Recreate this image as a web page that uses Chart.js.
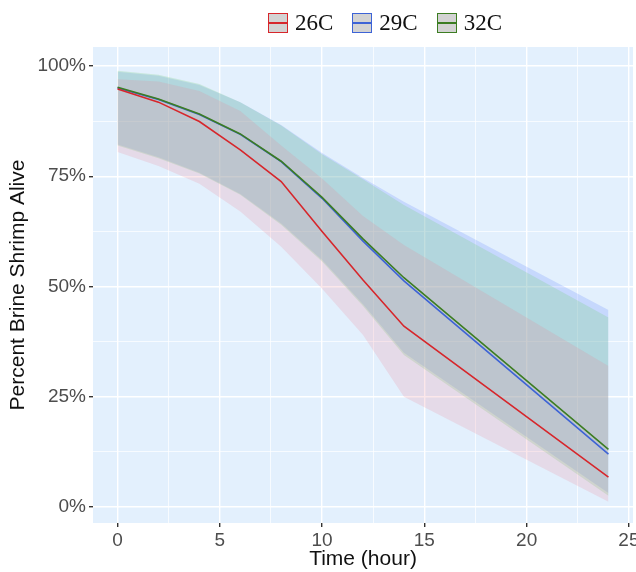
<!DOCTYPE html>
<html>
<head>
<meta charset="utf-8">
<script src="https://cdn.jsdelivr.net/npm/chart.js@4.4.1/dist/chart.umd.min.js"></script>
<style>
  html, body { margin: 0; padding: 0; background: #fff; }
  #wrap { position: relative; width: 636px; height: 572px; }
  #legend {
    position: absolute; top: 10px; left: 268px;
    display: flex; align-items: center;
    font-family: "Liberation Serif", "DejaVu Serif", serif; font-size: 23px; color: #111;
  }
  .item { display: flex; align-items: center; margin-right: 19px; }
  .box {
    width: 18px; height: 18px; background: #d3d3d3; position: relative;
    border: 1.5px solid; margin-right: 7px;
  }
  .box::after {
    content: ''; position: absolute; left: 0; right: 0; top: 8px; height: 2px; background: var(--c);
  }
</style>
</head>
<body>
<div id="wrap">
  <canvas id="chart" width="636" height="572"></canvas>
  <div id="legend"></div>
</div>
<script>
// sampling times (hour)
const times = [0, 2, 4, 6, 8, 10, 12, 14, 24];

// mean survival (%)
const mean26 = [94.8, 91.8, 87.4, 81, 73.8, 62.5, 51.5, 41, 6.8];
const mean29 = [95, 92.4, 89, 84.5, 78.3, 70, 60.3, 51.3, 12];
const mean32 = [95.2, 92.5, 89.1, 84.6, 78.4, 70.2, 60.8, 52, 13.1];

// ribbon bounds (%)
const upper26 = [97, 96.5, 94.3, 89.8, 82, 74.5, 66, 59.4, 32];
const lower26 = [80.5, 77.3, 73.3, 67, 59, 49.5, 39, 25, 1.2];
const upper29 = [98.7, 97.8, 95.7, 91.8, 86.6, 80.3, 74.6, 69.2, 44.7];
const lower29 = [82.2, 79.3, 75.8, 71, 64.3, 56, 46, 35, 3.2];
const upper32 = [98.9, 98, 95.9, 91.8, 86.5, 80, 74.3, 68.5, 43];
const lower32 = [82, 79.1, 75.6, 70.8, 64, 55.7, 45.6, 34.5, 2.6];

const xTicks = [0, 2.5, 5, 7.5, 10, 12.5, 15, 17.5, 20, 22.5, 25];
const yTicks = [0, 12.5, 25, 37.5, 50, 62.5, 75, 87.5, 100];

const groups = [
    { label: '26C', color: '#d7262b' },
    { label: '29C', color: '#3d63d6' },
    { label: '32C', color: '#3c7d22' }
];

const pts = arr => arr.map((v, i) => ({ x: times[i], y: v }));

function lineSet(data, color) {
    return {
        data: pts(data), borderColor: color, borderWidth: 1.6,
        pointRadius: 0, tension: 0, fill: false
    };
}

function bandUpper(data, fillColor) {
    return {
        data: pts(data), borderWidth: 0, pointRadius: 0, tension: 0,
        fill: '+1', backgroundColor: fillColor, borderColor: 'transparent'
    };
}

function bandLower(data) {
    return {
        data: pts(data), borderWidth: 0, pointRadius: 0, tension: 0,
        fill: false, borderColor: 'transparent'
    };
}

// panel background
const panelBg = {
    id: 'panelBg',
    beforeDraw(chart) {
        const { ctx, chartArea: a } = chart;
        ctx.save();
        ctx.fillStyle = '#e3f0fd';
        ctx.fillRect(a.left, a.top, a.right - a.left, a.bottom - a.top);
        ctx.restore();
    }
};

new Chart(document.getElementById('chart'), {
    type: 'line',
    data: {
        datasets: [
            lineSet(mean26, groups[0].color),
            lineSet(mean32, groups[2].color),
            lineSet(mean29, groups[1].color),
            bandUpper(upper26, 'rgba(236,122,140,0.18)'),
            bandLower(lower26),
            bandUpper(upper32, 'rgba(118,208,129,0.25)'),
            bandLower(lower32),
            bandUpper(upper29, 'rgba(97,132,255,0.22)'),
            bandLower(lower29)
        ]
    },
    options: {
        responsive: false,
        animation: false,
        layout: { padding: { top: 47, right: 3, left: 0, bottom: 0 } },
        plugins: {
            legend: { display: false },
            tooltip: { enabled: false },
            filler: { propagate: false }
        },
        scales: {
            x: {
                type: 'linear', min: -1.2, max: 25.2,
                afterBuildTicks: s => { s.ticks = xTicks.map(v => ({ value: v })); },
                afterFit: s => { s.height = 49; s.paddingLeft = 0; s.paddingRight = 0; },
                border: { display: false },
                grid: {
                    color: '#ffffff',
                    lineWidth: c => (c.tick && c.tick.value % 5 === 0 ? 1.4 : 0.7),
                    tickLength: 4,
                    tickColor: c => (c.tick && c.tick.value % 5 === 0 ? '#333333' : 'transparent')
                },
                ticks: {
                    autoSkip: false, maxRotation: 0, padding: 2,
                    color: '#4d4d4d',
                    font: { family: 'Liberation Sans, Arial, sans-serif', size: 19 },
                    callback: v => (v % 5 === 0 ? String(v) : '')
                },
                title: {
                    display: true, text: 'Time (hour)', color: '#111',
                    font: { family: 'Liberation Sans, Arial, sans-serif', size: 21 },
                    padding: { top: 0, bottom: 0 }
                }
            },
            y: {
                type: 'linear', min: -3.6, max: 104.3,
                afterBuildTicks: s => { s.ticks = yTicks.map(v => ({ value: v })); },
                afterFit: s => { s.width = 93; s.paddingTop = 0; s.paddingBottom = 0; },
                border: { display: false },
                grid: {
                    color: '#ffffff',
                    lineWidth: c => (c.tick && c.tick.value % 25 === 0 ? 1.4 : 0.7),
                    tickLength: 4,
                    tickColor: c => (c.tick && c.tick.value % 25 === 0 ? '#333333' : 'transparent')
                },
                ticks: {
                    autoSkip: false, padding: 3,
                    color: '#4d4d4d',
                    font: { family: 'Liberation Sans, Arial, sans-serif', size: 19 },
                    callback: v => (v % 25 === 0 ? v + '%' : '')
                },
                title: {
                    display: true, text: 'Percent Brine Shrimp Alive', color: '#111',
                    font: { family: 'Liberation Sans, Arial, sans-serif', size: 21 },
                    padding: { top: 6, bottom: 0 }
                }
            }
        }
    },
    plugins: [panelBg]
});

// legend
const legendEl = document.getElementById('legend');
groups.forEach(g => {
    const item = document.createElement('div');
    item.className = 'item';
    item.innerHTML = `<span class="box" style="border-color:${g.color};--c:${g.color}"></span><span>${g.label}</span>`;
    legendEl.appendChild(item);
});
</script>
</body>
</html>
